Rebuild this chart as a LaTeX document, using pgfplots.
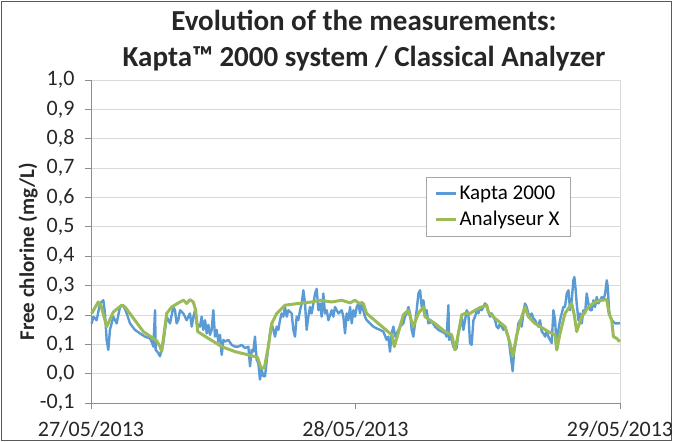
\documentclass[border=0pt]{standalone}
\usepackage{pgfplots}
\pgfplotsset{compat=1.18}
\usepackage{pgfplotstable}
\usepackage{fontspec}
\setmainfont{Carlito}
\definecolor{kblue}{HTML}{5B9BD5}
\definecolor{agreen}{HTML}{9BBB59}
\definecolor{gridc}{HTML}{D9D9D9}
\definecolor{axisc}{HTML}{8C8C8C}

\pgfplotstableread{
h v
0.06 0.17
0.21 0.194
0.51 0.182
0.82 0.239
1.12 0.25
1.27 0.205
1.42 0.115
1.57 0.081
1.72 0.149
2.03 0.194
2.33 0.171
2.63 0.227
2.93 0.233
3.24 0.205
3.54 0.171
3.99 0.149
4.45 0.137
4.9 0.126
5.35 0.12
5.5 0.109
5.66 0.092
5.81 0.216
5.87 0.081
6.11 0.07
6.26 0.059
6.56 0.104
6.87 0.194
7.17 0.171
7.47 0.227
7.62 0.216
7.77 0.171
7.92 0.182
8.08 0.216
8.38 0.205
8.68 0.182
8.98 0.205
9.14 0.16
9.29 0.194
9.44 0.216
9.59 0.171
9.89 0.16
10.04 0.194
10.19 0.149
10.35 0.182
10.5 0.137
10.65 0.166
10.8 0.132
10.95 0.149
11.1 0.216
11.25 0.126
11.4 0.149
11.56 0.109
11.71 0.132
11.86 0.064
12.01 0.115
12.16 0.109
12.46 0.115
12.76 0.098
13.07 0.092
13.37 0.092
13.67 0.098
13.97 0.087
14.28 0.092
14.43 0.025
14.58 0.081
14.73 0.075
14.88 0.126
15.03 0.047
15.18 0.036
15.33 -0.02
15.49 0.014
15.64 -0.009
15.79 -0.009
15.94 0.042
16.09 0.092
16.24 0.137
16.39 0.171
16.55 0.149
16.7 0.126
16.85 0.16
17.0 0.149
17.15 0.182
17.3 0.205
17.45 0.194
17.6 0.227
17.76 0.194
17.91 0.216
18.21 0.205
18.36 0.149
18.51 0.126
18.66 0.194
18.81 0.182
18.97 0.216
19.12 0.239
19.27 0.284
19.42 0.239
19.57 0.149
19.72 0.194
19.87 0.227
20.02 0.205
20.18 0.239
20.33 0.273
20.48 0.289
20.63 0.216
20.78 0.239
20.93 0.194
21.08 0.273
21.23 0.205
21.39 0.216
21.54 0.182
21.84 0.216
21.99 0.194
22.14 0.227
22.45 0.205
22.75 0.216
22.9 0.194
23.05 0.137
23.2 0.205
23.35 0.182
23.51 0.227
23.66 0.171
23.81 0.216
23.96 0.194
24.11 0.227
24.26 0.239
24.41 0.205
24.56 0.244
24.71 0.216
24.86 0.194
25.02 0.182
25.32 0.171
25.62 0.16
25.92 0.154
26.23 0.149
26.53 0.143
26.83 0.115
26.98 0.126
27.13 0.075
27.28 0.137
27.44 0.16
27.59 0.126
27.74 0.137
28.04 0.16
28.34 0.171
28.49 0.194
28.65 0.205
28.8 0.227
28.95 0.205
29.1 0.149
29.25 0.126
29.4 0.171
29.55 0.216
29.71 0.273
29.86 0.284
30.01 0.227
30.16 0.25
30.31 0.205
30.46 0.216
30.61 0.171
30.92 0.177
31.22 0.16
31.52 0.149
31.83 0.143
32.13 0.137
32.27 0.126
32.43 0.233
32.49 0.115
32.58 0.126
32.73 0.115
32.88 0.092
33.03 0.081
33.18 0.087
33.33 0.137
33.48 0.16
33.64 0.194
33.79 0.149
33.94 0.182
34.09 0.216
34.24 0.205
34.39 0.104
34.54 0.098
34.7 0.182
34.85 0.194
35.0 0.216
35.15 0.205
35.3 0.227
35.45 0.216
35.6 0.227
35.75 0.239
35.91 0.233
36.06 0.211
36.21 0.194
36.36 0.205
36.51 0.194
36.66 0.182
36.81 0.16
36.96 0.154
37.11 0.171
37.27 0.16
37.42 0.149
37.57 0.16
37.72 0.137
37.87 0.126
38.02 0.081
38.17 0.036
38.26 0.008
38.38 0.07
38.48 0.092
38.63 0.126
38.78 0.171
38.93 0.182
39.08 0.16
39.23 0.205
39.38 0.239
39.53 0.227
39.69 0.205
39.84 0.194
39.99 0.205
40.14 0.188
40.29 0.182
40.44 0.171
40.59 0.16
40.74 0.182
40.9 0.143
41.05 0.137
41.2 0.126
41.35 0.143
41.5 0.126
41.65 0.115
41.8 0.104
41.96 0.216
42.11 0.182
42.26 0.081
42.35 0.092
42.41 0.149
42.56 0.182
42.71 0.205
42.86 0.227
43.01 0.227
43.17 0.273
43.32 0.284
43.47 0.216
43.62 0.25
43.77 0.318
43.86 0.329
43.98 0.284
44.07 0.239
44.23 0.182
44.38 0.205
44.53 0.171
44.68 0.216
44.83 0.205
44.98 0.273
45.13 0.239
45.29 0.216
45.44 0.216
45.59 0.25
45.74 0.227
45.89 0.261
46.04 0.239
46.2 0.25
46.35 0.261
46.5 0.25
46.65 0.273
46.8 0.318
46.89 0.295
47.01 0.216
47.1 0.194
47.26 0.182
47.56 0.171
47.86 0.171
48.0 0.173
}\kapta

\pgfplotstableread{
h v
0.06 0.205
0.66 0.244
0.9 0.233
1.42 0.16
2.03 0.21
2.78 0.233
3.09 0.227
4.75 0.143
5.96 0.112
6.26 0.092
6.41 0.075
6.87 0.205
7.32 0.227
8.08 0.244
8.38 0.25
8.68 0.239
8.98 0.252
9.28 0.244
9.5 0.216
9.68 0.143
10.65 0.12
11.86 0.092
13.07 0.075
14.58 0.061
15.1 0.056
15.43 0.019
15.73 0.02
16.09 0.092
16.4 0.171
16.85 0.205
17.6 0.233
18.81 0.239
20.03 0.244
20.78 0.25
21.84 0.244
22.75 0.25
23.5 0.241
23.96 0.25
24.26 0.241
24.71 0.239
25.01 0.205
26.07 0.171
27.29 0.132
27.52 0.092
27.83 0.132
28.34 0.2
28.79 0.216
29.24 0.16
29.7 0.205
30.15 0.227
30.3 0.194
31.2 0.171
32.12 0.143
32.73 0.132
33.03 0.081
33.33 0.137
33.64 0.2
33.94 0.205
34.39 0.205
34.85 0.216
35.45 0.227
35.9 0.233
36.05 0.21
36.66 0.188
37.57 0.16
38.02 0.104
38.27 0.059
38.63 0.132
39.08 0.194
39.38 0.227
39.68 0.194
40.29 0.171
41.5 0.143
42.1 0.132
42.26 0.081
42.56 0.137
43.01 0.205
43.62 0.239
43.85 0.2
44.07 0.143
44.52 0.194
45.13 0.227
45.74 0.244
46.34 0.25
46.8 0.252
47.0 0.205
47.25 0.182
47.4 0.126
47.7 0.12
48.0 0.109
}\analyseur

\begin{document}
\begin{tikzpicture}
\useasboundingbox (-91pt,-39pt) rectangle (582pt,403pt);
\draw[line width=0.8pt, black!65] (-89.5pt,-37.5pt) rectangle (580.5pt,401.5pt);
\begin{axis}[
  at={(0pt,0pt)}, anchor=south west,
  scale only axis, width=529pt, height=323pt,
  xmin=0, xmax=48, ymin=-0.1, ymax=1.0,
  xtick={0,24,48},
  xticklabels={27/05/2013,28/05/2013,29/05/2013},
  ytick={-0.1,0,0.1,0.2,0.3,0.4,0.5,0.6,0.7,0.8,0.9,1.0},
  scaled y ticks=false,
  /pgf/number format/fixed,
  /pgf/number format/fixed zerofill,
  /pgf/number format/precision=1,
  /pgf/number format/use comma,
  /pgf/number format/assume math mode=true,
  tick label style={font=\fontsize{22}{26}\selectfont, text=black!85},
  xticklabel style={yshift=-9pt},
  yticklabel style={xshift=-7pt},
  axis x line*=bottom, axis y line*=left,
  axis line style={axisc, line width=0.8pt, -},
  tick style={axisc, line width=0.8pt},
  tick align=outside, major tick length=6pt,
  ymajorgrids, grid style={gridc, line width=0.8pt},
  legend style={at={(0.633,0.70)}, anchor=north west, draw=black!35,
    font=\fontsize{21}{25}\selectfont, inner xsep=9pt, inner ysep=7pt,
    row sep=6pt},
  legend cell align=left,
  legend image code/.code={\draw[#1, line width=2.5pt] (0pt,0pt) -- (20pt,0pt);},
  clip=false,
]
\draw[gridc, line width=0.8pt] (rel axis cs:1,0) -- (rel axis cs:1,1);
\addplot[kblue, line width=2.4pt, line join=round, no markers] table[x=h, y=v] {\kapta};
\addlegendentry{Kapta 2000}
\addplot[agreen, line width=3pt, line join=round, no markers] table[x=h, y=v] {\analyseur};
\addlegendentry{Analyseur X\hspace{8pt}}
\end{axis}
\node[rotate=90, font=\bfseries\fontsize{21}{25}\selectfont, text=black!85] at (-63pt,151pt) {Free chlorine (mg/L)};
\node[anchor=base, font=\bfseries\fontsize{29}{34}\selectfont, text=black!85] at (273pt,372pt) {Evolution of the measurements:};
\node[anchor=base, font=\bfseries\fontsize{29}{34}\selectfont, text=black!85] at (273pt,336pt) {Kapta™ 2000 system / Classical Analyzer};
\end{tikzpicture}
\end{document}
